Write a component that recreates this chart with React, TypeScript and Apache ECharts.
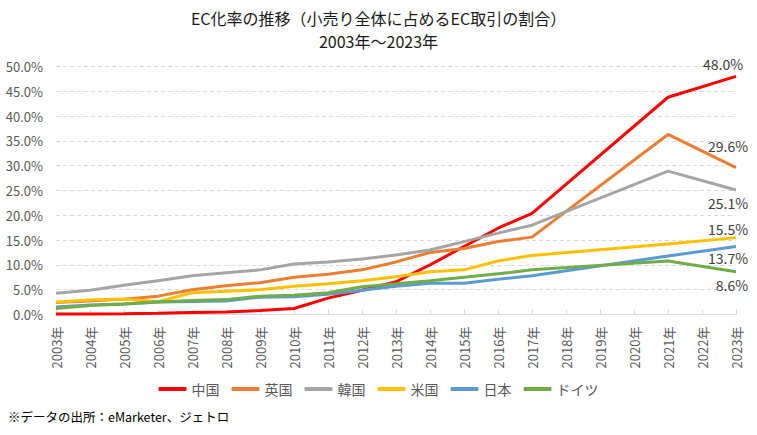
import React, { useEffect, useRef } from 'react';
import * as echarts from 'echarts';

const years = [
  '2003年', '2004年', '2005年', '2006年', '2007年', '2008年', '2009年',
  '2010年', '2011年', '2012年', '2013年', '2014年', '2015年', '2016年',
  '2017年', '2018年', '2019年', '2020年', '2021年', '2022年', '2023年',
];

// null = no data for that year (the line is joined across the gap)
const china = [0.1, 0.1, 0.15, 0.25, 0.4, 0.5, 0.8, 1.2, 3.3, 4.9, 6.6, 10.0, 13.7, 17.4, 20.4, null, null, null, 43.8, null, 48.0];
const uk = [2.4, 2.7, 3.1, 3.7, 5.0, 5.8, 6.4, 7.5, 8.1, 9.0, 10.6, 12.5, 13.3, 14.7, 15.6, null, null, null, 36.3, null, 29.6];
const korea = [4.3, 4.9, 5.9, 6.8, 7.8, 8.4, 9.0, 10.2, 10.6, 11.2, 12.0, 13.0, 14.7, 16.4, 18.0, null, null, null, 28.9, null, 25.1];
const usa = [2.5, 2.9, 3.1, 2.6, 4.4, 4.7, 5.0, 5.7, 6.2, 6.8, 7.6, 8.6, 9.0, 10.8, 11.9, null, null, null, 14.2, null, 15.5];
const japan = [1.5, 1.9, 2.1, 2.5, 2.6, 2.7, 3.5, 3.6, 4.1, 4.9, 5.7, 6.3, 6.3, 7.1, 7.8, null, null, null, 11.8, null, 13.7];
const germany = [1.2, 1.8, 2.1, 2.5, 2.8, 3.0, 3.7, 3.9, 4.4, 5.6, 6.2, 6.8, 7.5, 8.2, 9.0, null, null, null, 10.8, null, 8.6];

const FONT = '"Noto Sans CJK JP", "Noto Sans", sans-serif';

const App: React.FC = () => {
  const chartRef = useRef<HTMLDivElement>(null);

  useEffect(() => {
    document.body.style.margin = '0';
    if (!chartRef.current) return;
    const chart = echarts.init(chartRef.current, undefined, { renderer: 'svg' });

    // series name, data, colour, end label placement
    const defs: [string, (number | null)[], string, string, number[]][] = [
      ['中国', china, '#FF0000', 'top', [-13, 0]],
      ['英国', uk, '#ED7D31', 'top', [-8, -10]],
      ['韓国', korea, '#A5A5A5', 'bottom', [-8, 1]],
      ['米国', usa, '#FFC000', 'top', [-8, 3]],
      ['日本', japan, '#5B9BD5', 'bottom', [-8, -1]],
      ['ドイツ', germany, '#70AD47', 'bottom', [-4, 1]],
    ];

    const series = defs.map(([name, values, color, pos, offset]) => ({
      name,
      type: 'line',
      symbol: 'circle',
      symbolSize: 0,
      showSymbol: true,
      connectNulls: true,
      lineStyle: { color, width: 3 },
      itemStyle: { color },
      data: values.map((v, i) =>
        i === values.length - 1
          ? {
              value: v,
              label: {
                show: true,
                position: pos,
                offset,
                formatter: (p: any) => `${Number(p.value).toFixed(1)}%`,
                color: '#404040',
                fontSize: 14,
                fontFamily: FONT,
              },
            }
          : v
      ),
    }));

    chart.setOption({
      animation: false,
      title: {
        text: 'EC化率の推移（小売り全体に占めるEC取引の割合）',
        subtext: '2003年～2023年',
        left: 'center',
        top: 10,
        padding: 0,
        itemGap: 7,
        textStyle: {
          fontSize: 16,
          lineHeight: 16,
          fontWeight: 'normal',
          color: '#1a1a1a',
          fontFamily: FONT,
        },
        subtextStyle: {
          fontSize: 16,
          lineHeight: 16,
          color: '#1a1a1a',
          fontFamily: FONT,
        },
      },
      legend: {
        bottom: 34,
        left: 'center',
        icon: 'roundRect',
        itemWidth: 28,
        itemHeight: 4,
        itemGap: 12,
        textStyle: { color: '#595959', fontSize: 14, fontFamily: FONT },
        data: defs.map((d) => d[0]),
      },
      grid: { left: 56, right: 21, top: 66.5, bottom: 120.5 },
      xAxis: {
        type: 'category',
        data: years,
        boundaryGap: false,
        axisLine: { lineStyle: { color: '#D9D9D9' } },
        axisTick: { inside: true, length: 5, lineStyle: { color: '#D9D9D9' } },
        axisLabel: {
          rotate: 90,
          margin: 12,
          interval: 0,
          color: '#595959',
          fontSize: 13,
          fontFamily: FONT,
        },
      },
      yAxis: {
        type: 'value',
        min: 0,
        max: 50,
        interval: 5,
        axisLine: { show: false },
        axisTick: { show: false },
        axisLabel: {
          margin: 13,
          color: '#595959',
          fontSize: 13,
          fontFamily: FONT,
          formatter: (v: number) => `${v.toFixed(1)}%`,
        },
        splitLine: { lineStyle: { color: '#D9D9D9', type: [4, 3] } },
      },
      graphic: [
        {
          type: 'text',
          left: 8,
          top: 410,
          style: {
            text: '※データの出所：eMarketer、ジェトロ',
            fill: '#000',
            fontSize: 12.5,
            fontFamily: FONT,
          },
        },
      ],
      series,
    });

    return () => {
      chart.dispose();
    };
  }, []);

  return <div ref={chartRef} style={{ width: 757, height: 435 }} />;
};

export default App;
